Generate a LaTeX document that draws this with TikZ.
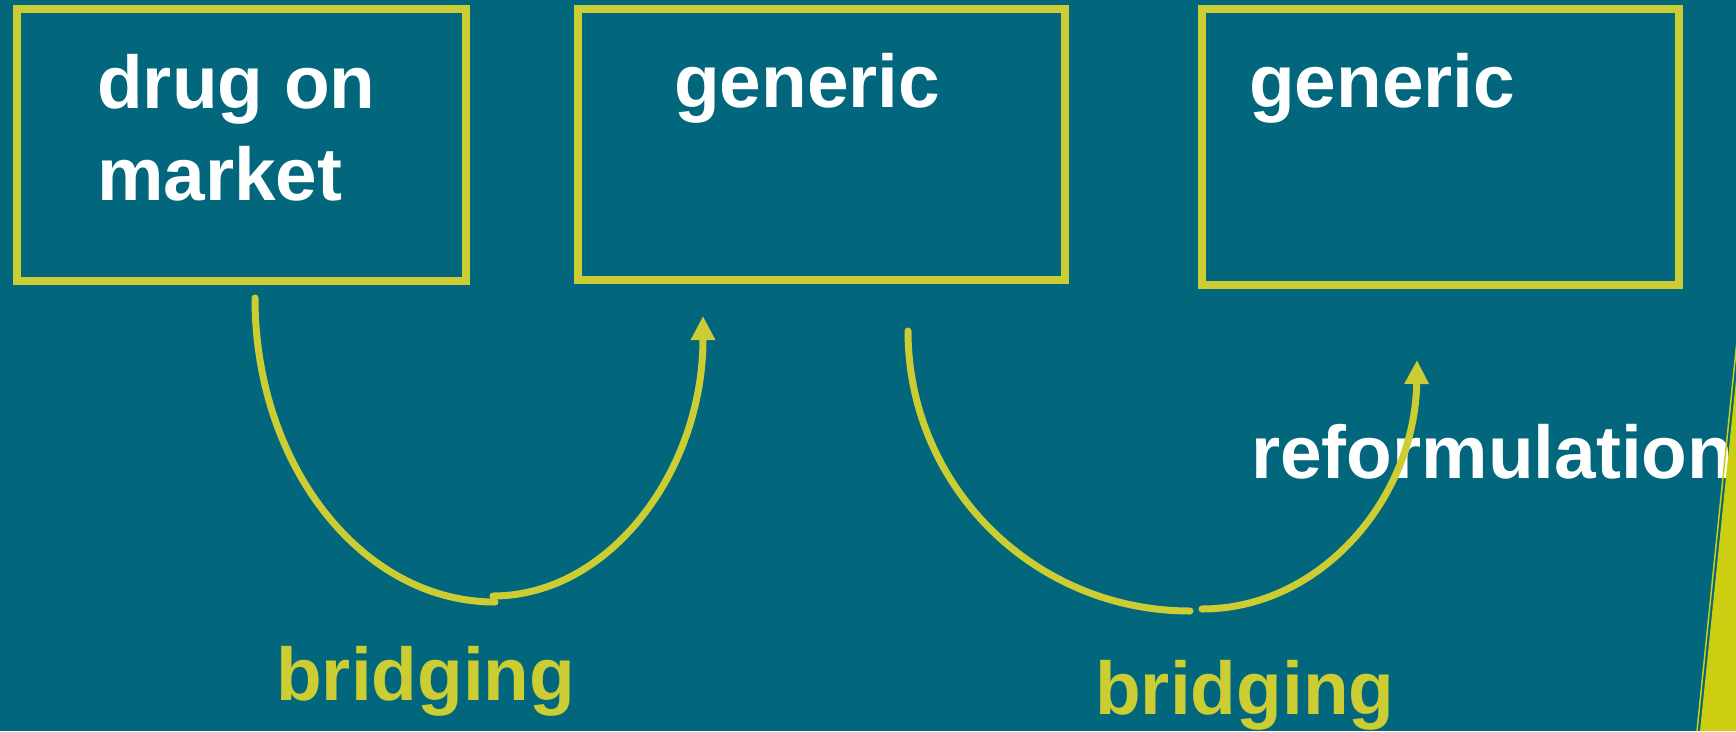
\documentclass[tikz,border=0pt]{standalone}
\usepackage{fontspec}
\setmainfont{Liberation Sans}
\usetikzlibrary{arrows.meta}
\definecolor{teal}{RGB}{2,103,125}
\definecolor{lime}{RGB}{204,204,51}
\definecolor{limefill}{RGB}{205,205,18}
\tikzset{
  framebox/.style={draw=lime, line width=8pt, rectangle, inner sep=0pt},
  boxtext/.style={text=white, font=\fontsize{74.8}{88}\selectfont\bfseries, inner sep=0pt, anchor=base west},
  bridgetext/.style={text=lime, font=\fontsize{74.8}{88}\selectfont\bfseries, inner sep=0pt, anchor=base west},
  arc/.style={draw=lime, line width=7pt, line cap=round},
  arcarrow/.style={arc, -{Triangle[length=24pt,width=23pt]}}
}
\begin{document}
\begin{tikzpicture}[x=1pt,y=-1pt]
\fill[teal] (0,0) rectangle (1736,731);
\useasboundingbox (0,0) rectangle (1736,731);
\begin{scope}
\clip (0,0) rectangle (1736,731);
% boxes
\node[framebox, minimum width=449pt, minimum height=272pt] (b1) at (241.5,145) {};
\node[framebox, minimum width=487pt, minimum height=271pt] (b2) at (821.5,144.5) {};
\node[framebox, minimum width=477pt, minimum height=276pt] (b3) at (1440.5,147) {};
% texts
\node[boxtext] (t1a) at (97,108) {drug on};
\node[boxtext] (t1b) at (97,200) {market};
\node[boxtext] (t2) at (674,107) {generic};
\node[boxtext] (t3) at (1249,107) {generic};
\node[boxtext] (t4) at (1251,478) {reformulation};
\node[bridgetext] (l1) at (276,700) {bridging};
\node[bridgetext] (l2) at (1095,714) {bridging};
% curve endpoints
\coordinate (c1s) at (255,298);
\coordinate (c1m) at (495,602);
\coordinate (c1n) at (493,596);
\coordinate (c1e) at (703,316);
\coordinate (c2s) at (908,331);
\coordinate (c2m) at (1190,611);
\coordinate (c2n) at (1202,609);
\coordinate (c2e) at (1417,360);
% curves
\draw[arc] (c1s) .. controls (255,466) and (362.5,602) .. (c1m);
\draw[arcarrow] (c1n) .. controls (609,596) and (703,471.5) .. (c1e);
\draw[arc] (c2s) .. controls (908,486) and (1034,611) .. (c2m);
\draw[arcarrow] (c2n) .. controls (1321,609) and (1415,498) .. (c2e);
% right edge decoration
\draw[limefill, line width=1.5pt] (1738.1,330) -- (1697,731);
\fill[limefill] (1741.1,330) -- (1700,731) -- (1740,731) -- cycle;
\end{scope}
\end{tikzpicture}
\end{document}
